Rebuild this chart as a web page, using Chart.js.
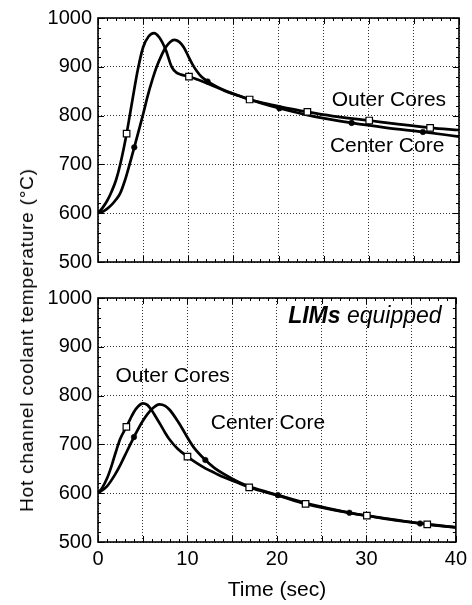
<!DOCTYPE html>
<html><head><meta charset="utf-8">
<script src="https://cdn.jsdelivr.net/npm/chart.js@4.4.0/dist/chart.umd.min.js"></script>
<style>
html,body{margin:0;padding:0;background:#fff;}
#wrap{position:relative;width:472px;height:605px;overflow:hidden;background:#fff;}
#c1{position:absolute;left:0;top:0;}
#c2{position:absolute;left:0;top:280px;}
#ytitle{position:absolute;left:27px;top:340px;transform:translate(-50%,-50%) rotate(-90deg);white-space:nowrap;font:19px "Liberation Sans",Arial,sans-serif;letter-spacing:0.8px;color:#000;}
</style></head><body>
<div id="wrap">
<canvas id="c1" width="472" height="280"></canvas>
<canvas id="c2" width="472" height="325"></canvas>
<div id="ytitle">Hot channel coolant temperature (°C)</div>
</div>
<script>
// ---- axes ----
const timeTickLabels = [0, 10, 20, 30, 40];
const tempTickLabels = [500, 600, 700, 800, 900, 1000];

// ---- top panel (no LIMs) ----
const topOuterTime = [0,0.5,1,1.5,2,2.5,3.17,3.5,4,4.4,5,5.6,6.2,6.8,7.5,8.16,8.7,9.2,10.08,11,12,13,14,15.7,16.8,18,20,23.2,26,30.05,33,36.8,40];
const topOuterTemp = [600,611,625,644,668,703,763,798,852,893,940,962,969,960,935,900,888,884,880,874,867,859,851,840,833,827,819,807.5,799,790,783,775,770.5];
const topCenterTime = [0,0.5,1,1.5,2,2.44,3,3.5,4.02,4.5,5,5.5,6,6.5,7,7.5,8,8.45,9,9.5,10,10.5,11,11.5,12.14,13,14,15.7,18,20.1,24,28.1,32,36,40];
const topCenterTemp = [600,603,609,617,628,640,668,700,735,768,803,840,872,900,922,940,951,955,951,940,922,904,890,879,870,861,852,840,826,815,798,785,775,766.5,757];
const topOuterMarkTime = [3.17,10.08,16.8,23.2,30.05,36.8];
const topOuterMarkTemp = [763,880,833,807.5,790,775];
const topCenterMarkTime = [4.02,12.14,20.1,28.1,36];
const topCenterMarkTemp = [735,870,815,785,766.5];

// ---- bottom panel (LIMs equipped) ----
const botOuterTime = [0,0.5,1,1.5,2,2.5,3.17,3.6,4,4.5,5,5.5,6,6.5,7,7.5,8,8.9,10,11,12,13,14,15.7,16.9,18,20,23.2,26,30.05,33,36.8,40];
const botOuterTemp = [600,612,630,655,685,712,736,752,766,778,784,781,770,755,740,724,710,691,675,662,651,642,633,621,612,606,596,578,567,554,546,536,530];
const botCenterTime = [0,1,1.9,2.5,3,4.02,5,6,6.87,7.5,8,8.9,9.5,10,10.7,12,13,14,15.7,17,20.1,24,28.1,32,36,40];
const botCenterTemp = [600,614,638,658,677,715,748,772,782,779,771,748,730,714,694,668,652,640,623,613,596,576,560,548,538,530];
const botOuterMarkTime = [3.17,10,16.9,23.2,30.05,36.8];
const botOuterMarkTemp = [736,675,612,578,554,536];
const botCenterMarkTime = [4.02,12,20.1,28.1,36];
const botCenterMarkTemp = [715,668,596,560,538];

const zip = (xs, ys) => xs.map((x, i) => ({x, y: ys[i]}));
const FONT = '"Liberation Sans", Arial, sans-serif';

const frameTicks = {
  id: 'frameTicks',
  afterDatasetsDraw(chart) {
    const {ctx, chartArea: a, scales: {x, y}} = chart;
    ctx.save();
    ctx.strokeStyle = '#000';
    ctx.lineWidth = 1;
    ctx.beginPath();
    for (let t = x.min; t <= x.max; t += 1) {
      const px = Math.round(x.getPixelForValue(t)) + 0.5;
      const L = t % 5 === 0 ? 6 : 3;
      ctx.moveTo(px, a.bottom); ctx.lineTo(px, a.bottom - L);
      ctx.moveTo(px, a.top); ctx.lineTo(px, a.top + L);
    }
    for (let v = y.min; v <= y.max; v += 20) {
      const py = Math.round(y.getPixelForValue(v)) + 0.5;
      const L = v % 100 === 0 ? 6 : 3;
      ctx.moveTo(a.left, py); ctx.lineTo(a.left + L, py);
      ctx.moveTo(a.right, py); ctx.lineTo(a.right - L, py);
    }
    ctx.stroke();
    ctx.lineWidth = 1.6;
    ctx.strokeRect(a.left, a.top, a.right - a.left, a.bottom - a.top);
    ctx.restore();
  }
};

const textLabels = {
  id: 'textLabels',
  afterDraw(chart, args, opts) {
    const {ctx, scales: {x, y}} = chart;
    ctx.save();
    ctx.fillStyle = '#000';
    ctx.textBaseline = 'middle';
    for (const it of (opts.items || [])) {
      const px = x.getPixelForValue(it.x), py = y.getPixelForValue(it.y);
      if (it.parts) {
        let cx = px;
        for (let i = it.parts.length - 1; i >= 0; i--) {
          const p = it.parts[i];
          ctx.font = p.font;
          ctx.textAlign = 'right';
          ctx.fillText(p.text, cx, py);
          cx -= ctx.measureText(p.text).width;
        }
      } else {
        ctx.font = it.font;
        ctx.textAlign = it.align || 'left';
        ctx.fillText(it.text, px, py);
      }
    }
    ctx.restore();
  }
};

function lineDs(pts) {
  return {data: pts, borderColor: '#000', borderWidth: 2.7, pointRadius: 0, fill: false,
          cubicInterpolationMode: 'monotone', order: 2};
}
function squareDs(pts) {
  return {data: pts, showLine: false, pointStyle: 'rect', pointRadius: 4.6,
          pointBackgroundColor: '#fff', pointBorderColor: '#000', pointBorderWidth: 1.2, order: 0};
}
function dotDs(pts) {
  return {data: pts, showLine: false, pointStyle: 'circle', pointRadius: 2.8,
          pointBackgroundColor: '#000', pointBorderColor: '#000', pointBorderWidth: 0.5, order: 1};
}

function makePanel(canvas, datasets, bottom, labels) {
  return new Chart(canvas, {
    type: 'line',
    data: {datasets},
    plugins: [frameTicks, textLabels],
    options: {
      responsive: false,
      animation: false,
      devicePixelRatio: 1,
      layout: {padding: {top: bottom ? 13 : 15, right: 13, left: 0, bottom: 0}},
      plugins: {legend: {display: false}, tooltip: {enabled: false}, textLabels: {items: labels}},
      scales: {
        x: {
          type: 'linear', min: timeTickLabels[0], max: timeTickLabels[timeTickLabels.length - 1],
          afterFit(s) { s.height = bottom ? 63 : 13; },
          grid: {color: '#333', lineWidth: 1, drawTicks: false},
          border: {display: false, dash: [1, 2]},
          ticks: {display: bottom, stepSize: 5, padding: 5, color: '#000', maxRotation: 0,
                  font: {family: FONT, size: 20},
                  callback: v => timeTickLabels.includes(v) ? String(v) : ''},
          title: {display: bottom, text: 'Time (sec)', color: '#000',
                  font: {family: FONT, size: 21}, padding: {top: 0, bottom: 2}}
        },
        y: {
          min: tempTickLabels[0], max: tempTickLabels[tempTickLabels.length - 1],
          afterFit(s) { s.width = 98; },
          grid: {color: '#333', lineWidth: 1, drawTicks: false},
          border: {display: false, dash: [1, 2]},
          ticks: {stepSize: 100, padding: 6, color: '#000', font: {family: FONT, size: 20},
                  callback: v => tempTickLabels.includes(v) ? String(v) : ''}
        }
      }
    }
  });
}

const LF = '21px ' + FONT;
makePanel(document.getElementById('c1'), [
  squareDs(zip(topOuterMarkTime, topOuterMarkTemp)),
  dotDs(zip(topCenterMarkTime, topCenterMarkTemp)),
  lineDs(zip(topOuterTime, topOuterTemp)),
  lineDs(zip(topCenterTime, topCenterTemp))
], false, [
  {text: 'Outer Cores', x: 25.9, y: 831, font: LF},
  {text: 'Center Core', x: 25.7, y: 738, font: LF}
]);

makePanel(document.getElementById('c2'), [
  squareDs(zip(botOuterMarkTime, botOuterMarkTemp)),
  dotDs(zip(botCenterMarkTime, botCenterMarkTemp)),
  lineDs(zip(botOuterTime, botOuterTemp)),
  lineDs(zip(botCenterTime, botCenterTemp))
], true, [
  {text: 'Outer Cores', x: 1.95, y: 839, font: LF},
  {text: 'Center Core', x: 12.6, y: 743, font: LF},
  {x: 38.4, y: 962, parts: [
    {text: 'LIMs', font: 'italic bold 23px ' + FONT},
    {text: ' equipped', font: 'italic 23px ' + FONT}
  ]}
]);
</script>
</body></html>
